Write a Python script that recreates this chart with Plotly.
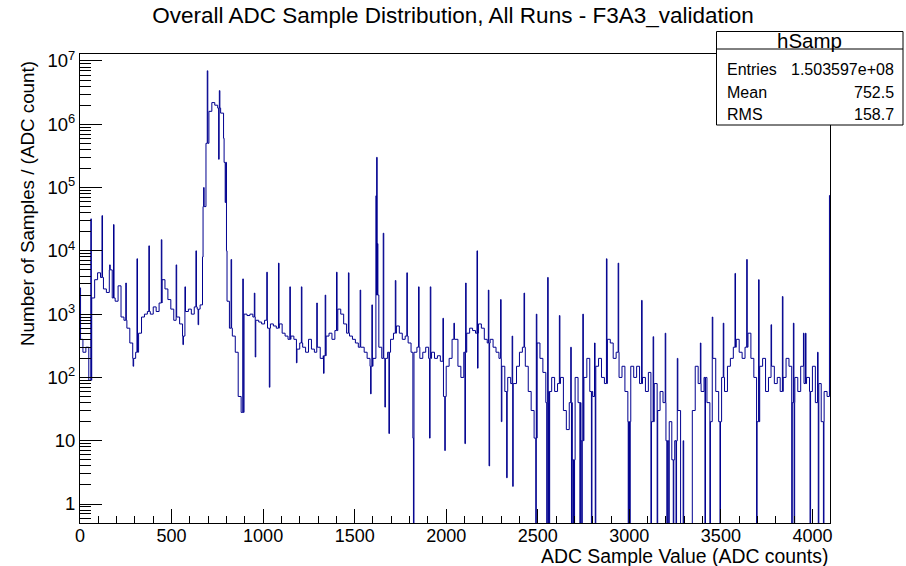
import numpy as np
import plotly.graph_objects as go

# ---------------- data ----------------
BIN_WIDTH = 16  # ADC counts per coarse bin
N_ADC = 4096

# coarse-bin contents, one value per 16 ADC counts, starting at ADC 0
base_counts = [
    400, 250, 300, 90,
    1800, 3500, 4500, 3800,
    2500, 2200, 5000, 1800,
    1600, 2800, 900, 800,
    600, 350, 200, 250,
    500, 900, 1000, 1100,
    1000, 1300, 1100, 1500,
    3500, 2500, 1700, 1200,
    800, 900, 700, 450,
    1100, 1200, 1000, 1300,
    1200, 1400, 50000, 500000,
    1600000, 2200000, 2000000, 1800000,
    1500000, 250000, 1600, 600,
    450, 250, 50, 28,
    1000, 950, 1000, 900, 800, 750, 700, 800,
    600, 700, 650, 600, 700, 500, 450, 400,
    450, 400, 280, 350, 300, 250, 400, 280,
    250, 300, 200, 220, 450, 500, 400, 550,
    1200, 1000, 700, 500, 450, 400, 350, 300,
    300, 250, 200, 150, 200, 2000, 300, 200,
    200, 250, 400, 500, 650, 500, 400, 450,
    350, 250, 250, 300, 200, 250, 300, 200,
    250, 200, 220, 180, 50, 150, 200, 400,
    400, 150, 100, 250, 500, 600, 550, 500,
    700, 600, 400, 350, 400, 300, 250, 200,
    150, 60, 100, 80, 80, 150, 250, 300,
    150, 60, 30, 11, 350, 200, 120, 40,
    60, 100, 60, 80, 100, 30, 15, 40,
    5, 100, 40, 10, 100, 200, 60, 50,
    150, 200, 100, 80, 400, 350, 200, 250,
    100, 150, 60, 20, 150, 100, 150, 80,
    100, 60, 120, 20, 80, 30, 60, 40,
    10, 20, 5, 10, 30, 0, 0, 0,
    0, 30, 150, 80, 60, 100, 40, 20,
    200, 60, 20, 100, 60, 150, 200, 300,
    400, 250, 200, 300, 500, 200, 100, 20,
    150, 200, 60, 100, 150, 80, 100, 60,
    100, 200, 150, 40, 100, 60, 150, 80,
    100, 60, 150, 40, 80, 20, 60, 50,
]

# narrow features (3 ADC counts wide): start ADC value and bin content
spike_adc = [
    0, 59, 120, 162, 183, 250, 290, 311, 376, 444, 525, 562, 573, 633, 645,
    669, 675, 695, 757, 761, 784, 793, 800, 825, 889, 952, 957, 1020, 1034,
    1084, 1146, 1182, 1209, 1293, 1330, 1339, 1401, 1466, 1530, 1587, 1594,
    1616, 1620, 1624, 1656, 1665, 1687, 1722, 1785, 1818, 1821, 1849, 1909,
    1913, 1982, 1992, 2042, 2102, 2106, 2168, 2171, 2230, 2234, 2297, 2301,
    2330, 2360, 2363, 2425, 2489, 2492, 2549, 2554, 2558, 2562, 2618, 2680,
    2684, 2692, 2698, 2730, 2740, 2746, 2793, 2810, 2814, 2875, 2939, 2994,
    2998, 3002, 3067, 3118, 3130, 3152, 3196, 3205, 3215, 3240, 3255, 3262,
    3294, 3388, 3413, 3440, 3453, 3495, 3513, 3577, 3641, 3695, 3706, 3774,
    3836, 3887, 3896, 3900, 3951, 3962, 3987, 4028, 4032, 4060, 4093,
]
spike_counts = [
    2600, 32000, 36000, 6000, 26000, 3100, 150, 7500, 12000, 15000, 6000, 330, 2700, 10000, 680,
    8000, 100000, 7000000, 280000, 3400000, 600000, 58000, 10000, 7300, 3600, 2150, 210, 4600, 70,
    6400, 2700, 170, 2700, 1500, 116, 2000, 4600, 4500, 2400, 55, 1400,
    74000, 300000, 13000, 19000, 34, 13, 3400, 4500, 11, 0, 2700, 11,
    2700, 860, 7, 720, 9, 3100, 10000, 140, 2400, 4, 1700, 20,
    2.6, 450, 1.9, 2150, 0, 1000, 0, 3800, 0, 0, 950, 300,
    0, 0, 0, 0, 0, 1000, 0, 350, 0, 7500, 6400, 0,
    0, 0, 1650, 0, 440, 0, 500, 0, 0, 0, 0, 200,
    10, 350, 0, 0, 900, 0, 720, 4400, 7300, 0, 3500, 680,
    1900, 0, 720, 0, 500, 500, 0, 250, 0, 0, 75000,
]

x_tick_vals = [0, 500, 1000, 1500, 2000, 2500, 3000, 3500, 4000]
y_tick_vals = [1, 10, 100, 1000, 10000, 100000, 1000000, 10000000]
y_tick_text = ["1", "10", "10<sup>2</sup>", "10<sup>3</sup>", "10<sup>4</sup>",
               "10<sup>5</sup>", "10<sup>6</sup>", "10<sup>7</sup>"]

stats_title = "hSamp"
stats_labels = ["Entries", "Mean", "RMS"]
stats_values = ["1.503597e+08", "752.5", "158.7"]

# ---------------- build the step histogram ----------------
fine = np.repeat(np.array(base_counts, dtype=float), BIN_WIDTH)[:N_ADC]
for a, v in zip(spike_adc, spike_counts):
    fine[a:a + 3] = v

xs, ys = [], []
prev = None
for i, v in enumerate(fine):
    if v != prev:
        xs.append(i)
        ys.append(v)
        prev = v
xs.append(N_ADC)
ys.append(ys[-1])
ys_plot = [v if v > 0 else 0.05 for v in ys]

FONT = "Liberation Sans, Arial, Helvetica, sans-serif"
W, H = 906, 566
L, R, T, B = 80, 76, 54, 43
PW, PH = W - L - R, H - T - B


def px(xp):
    return (xp - L) / PW


def py(yp):
    return (H - B - yp) / PH


fig = go.Figure()
fig.add_trace(go.Scatter(
    x=xs, y=ys_plot, mode="lines", line=dict(color="#00008f", width=1, shape="hv"),
    hoverinfo="skip", showlegend=False,
))

minor_vals = [k * 10 ** e for e in range(-1, 8) for k in range(2, 10)]

fig.update_layout(
    width=W, height=H,
    margin=dict(l=L, r=R, t=T, b=B),
    paper_bgcolor="white", plot_bgcolor="white",
    font=dict(family=FONT, color="black"),
    title=dict(text="Overall ADC Sample Distribution, All Runs - F3A3_validation",
               x=0.5, xanchor="center", y=1 - 15 / H, yanchor="middle",
               font=dict(size=22.5, family=FONT, color="black")),
    xaxis=dict(range=[0, N_ADC], showline=True, linecolor="black", linewidth=1, mirror=True,
               ticks="inside", ticklen=14, tickwidth=1, tickcolor="black",
               tickvals=x_tick_vals, ticktext=[str(v) for v in x_tick_vals],
               ticklabelstandoff=-4,
               minor=dict(ticks="inside", ticklen=7, dtick=100, tick0=0, tickcolor="black", showgrid=False),
               showgrid=False, zeroline=False, tickfont=dict(size=18, family=FONT)),
    yaxis=dict(type="log", range=[-0.3, 7.11], showline=True, linecolor="black", linewidth=1, mirror=True,
               ticks="inside", ticklen=22, tickwidth=1, tickcolor="black",
               tickvals=y_tick_vals, ticktext=y_tick_text,
               minor=dict(ticks="inside", ticklen=11, tickvals=minor_vals, tickcolor="black", showgrid=False),
               showgrid=False, zeroline=False, tickfont=dict(size=18.5, family=FONT)),
)

# axis titles (ROOT style: aligned to the axis ends)
fig.add_annotation(text="ADC Sample Value (ADC counts)", xref="paper", yref="paper",
                   x=px(830), y=py(556), xanchor="right", yanchor="middle",
                   showarrow=False, font=dict(size=19.4, family=FONT))
fig.add_annotation(text="Number of Samples / (ADC count)", xref="paper", yref="paper",
                   x=px(28), y=py(204), xanchor="center", yanchor="middle", textangle=-90,
                   showarrow=False, font=dict(size=18.8, family=FONT))

# stats box
bx0, bx1, by0, by1, bsep = 716.5, 903, 31.5, 125, 49
fig.add_shape(type="rect", xref="paper", yref="paper", x0=px(bx0), x1=px(bx1), y0=py(by1), y1=py(by0),
              line=dict(color="black", width=1), fillcolor="white", layer="above")
fig.add_shape(type="line", xref="paper", yref="paper", x0=px(bx0), x1=px(bx1), y0=py(bsep), y1=py(bsep),
              line=dict(color="black", width=1), layer="above")
fig.add_annotation(text=stats_title, xref="paper", yref="paper", x=px((bx0 + bx1) / 2), y=py(40.5),
                   xanchor="center", yanchor="middle", showarrow=False, font=dict(size=20.5, family=FONT))
row_y = [70, 92.5, 115]
for lab, val, ry in zip(stats_labels, stats_values, row_y):
    fig.add_annotation(text=lab, xref="paper", yref="paper", x=px(725), y=py(ry),
                       xanchor="left", yanchor="middle", showarrow=False, font=dict(size=16, family=FONT))
    fig.add_annotation(text=val, xref="paper", yref="paper", x=px(896), y=py(ry),
                       xanchor="right", yanchor="middle", showarrow=False, font=dict(size=16, family=FONT))

fig.write_html("out.html")
